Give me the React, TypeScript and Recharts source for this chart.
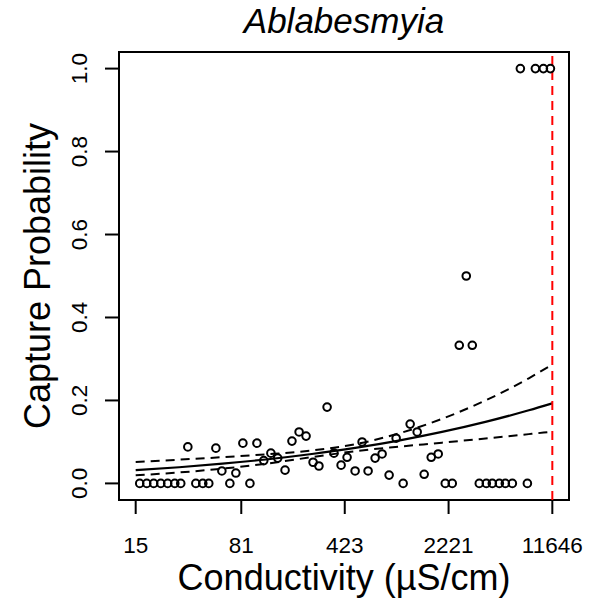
import React from "react";
import {
  ComposedChart,
  XAxis,
  YAxis,
  Scatter,
  Line,
  ReferenceLine,
  ReferenceArea,
} from "recharts";

const FONT = "'Liberation Sans', Arial, Helvetica, sans-serif";

// Observed capture probabilities vs conductivity (µS/cm)
const conductivity = [
  16, 17.9, 20, 22.4, 25, 28, 30.8, 34.5, 39.2, 43.8, 48.2, 54, 59.4, 67.5, 74.3,
  83.1, 93, 104, 116, 130, 145, 163, 182, 204, 228, 255, 280, 319, 356, 399, 439,
  499, 558, 614, 687, 768, 859, 961, 1075, 1202, 1345, 1504, 1683, 1882, 2106,
  2355, 2634, 2946, 3243, 3627, 4057, 4465, 4995, 5497, 6149, 6989, 7817, 8884,
  10098, 11295,
];
const captureProb = [
  0, 0, 0, 0, 0, 0, 0, 0.088, 0, 0, 0, 0.085, 0.03, 0, 0.025, 0.097, 0, 0.097,
  0.055, 0.073, 0.061, 0.032, 0.102, 0.124, 0.114, 0.051, 0.042, 0.184, 0.073,
  0.044, 0.063, 0.03, 0.1, 0.03, 0.061, 0.071, 0.02, 0.109, 0, 0.143, 0.124,
  0.022, 0.063, 0.071, 0, 0, 0.333, 0.5, 0.333, 0, 0, 0, 0, 0, 0, 1, 0, 1, 1, 1,
];

// Fitted curve and confidence band
const fitX = [15, 30, 60, 120, 250, 500, 1000, 2000, 4000, 8000, 11646];
const fitMid = [0.032, 0.039, 0.0475, 0.0577, 0.0709, 0.0857, 0.1033, 0.1241, 0.1483, 0.1763, 0.1931];
const fitUpper = [0.0518, 0.0572, 0.0632, 0.07, 0.0794, 0.0944, 0.1203, 0.1557, 0.1999, 0.2535, 0.2865];
const fitLower = [0.0196, 0.0264, 0.0356, 0.0475, 0.0633, 0.0777, 0.0885, 0.0982, 0.1082, 0.1188, 0.1248];

const xTicks = [15, 81, 423, 2221, 11646];
const yTicks = [0, 0.2, 0.4, 0.6, 0.8, 1.0];
const threshold = 11646;
const xDomain = [11.49, 15200];
const yDomain = [-0.04, 1.04];

const points = conductivity.map((x, i) => ({ x, y: captureProb[i] }));
const midData = fitX.map((x, i) => ({ x, y: fitMid[i] }));
const upData = fitX.map((x, i) => ({ x, y: fitUpper[i] }));
const loData = fitX.map((x, i) => ({ x, y: fitLower[i] }));

const OpenCircle = (props: any) => {
  const { cx, cy } = props;
  if (cx == null || cy == null) return null;
  return <circle cx={cx} cy={cy} r={3.8} fill="none" stroke="#000" strokeWidth={2} />;
};

const YTick = (props: any) => {
  const { x, y, payload } = props;
  return (
    <text
      x={x}
      y={y}
      transform={`rotate(-90, ${x}, ${y})`}
      textAnchor="middle"
      fontSize={22.5}
      fontFamily={FONT}
      fill="#000"
    >
      {Number(payload.value).toFixed(1)}
    </text>
  );
};

export default function App() {
  return (
    <div style={{ position: "absolute", left: 0, top: 0, width: 608, height: 602, background: "#fff" }}>
      <ComposedChart width={608} height={602} margin={{ top: 52, right: 39, bottom: 0, left: 0 }}>
        <XAxis
          type="number"
          dataKey="x"
          scale="log"
          domain={xDomain}
          allowDataOverflow
          ticks={xTicks}
          interval={0}
          height={102}
          tickSize={14}
          tickMargin={23}
          axisLine={false}
          tickLine={{ stroke: "#000", strokeWidth: 2 }}
          tick={{ fill: "#000", fontSize: 22.5, fontFamily: FONT }}
          tickFormatter={(v: number) => String(v)}
          label={{
            content: (p: any) => {
              const vb = p.viewBox || { x: 119, y: 500, width: 450, height: 102 };
              return (
                <text
                  x={vb.x + vb.width / 2}
                  y={vb.y + vb.height - 12}
                  textAnchor="middle"
                  fontSize={36}
                  fontFamily={FONT}
                  fill="#000"
                >
                  Conductivity (µS/cm)
                </text>
              );
            },
          }}
        />
        <YAxis
          type="number"
          dataKey="y"
          domain={yDomain}
          allowDataOverflow
          ticks={yTicks}
          interval={0}
          width={119}
          tickSize={14}
          tickMargin={18}
          axisLine={false}
          tickLine={{ stroke: "#000", strokeWidth: 2 }}
          tick={<YTick />}
          label={{
            content: (p: any) => {
              const vb = p.viewBox || { x: 0, y: 52, width: 119, height: 448 };
              const cx = 50;
              const cy = vb.y + vb.height / 2;
              return (
                <text
                  x={cx}
                  y={cy}
                  transform={`rotate(-90, ${cx}, ${cy})`}
                  textAnchor="middle"
                  fontSize={36}
                  fontFamily={FONT}
                  fill="#000"
                >
                  Capture Probability
                </text>
              );
            },
          }}
        />
        <ReferenceArea
          x1={xDomain[0]}
          x2={xDomain[1]}
          y1={yDomain[0]}
          y2={yDomain[1]}
          fill="none"
          fillOpacity={0}
          stroke="#000"
          strokeWidth={2}
          ifOverflow="visible"
        />
        <Line data={upData} dataKey="y" type="monotone" stroke="#000" strokeWidth={2} strokeDasharray="9 6" dot={false} isAnimationActive={false} />
        <Line data={loData} dataKey="y" type="monotone" stroke="#000" strokeWidth={2} strokeDasharray="9 6" dot={false} isAnimationActive={false} />
        <Line data={midData} dataKey="y" type="monotone" stroke="#000" strokeWidth={2.2} dot={false} isAnimationActive={false} />
        <Scatter data={points} dataKey="y" shape={<OpenCircle />} isAnimationActive={false} />
        <ReferenceLine x={threshold} stroke="#ff0000" strokeWidth={2} strokeDasharray="9 6" ifOverflow="visible" />
      </ComposedChart>
      <svg style={{ position: "absolute", left: 0, top: 0 }} width={608} height={52}>
        <text x={344} y={33} textAnchor="middle" fontStyle="italic" fontSize={35} fontFamily={FONT} fill="#000">
          Ablabesmyia
        </text>
      </svg>
    </div>
  );
}
